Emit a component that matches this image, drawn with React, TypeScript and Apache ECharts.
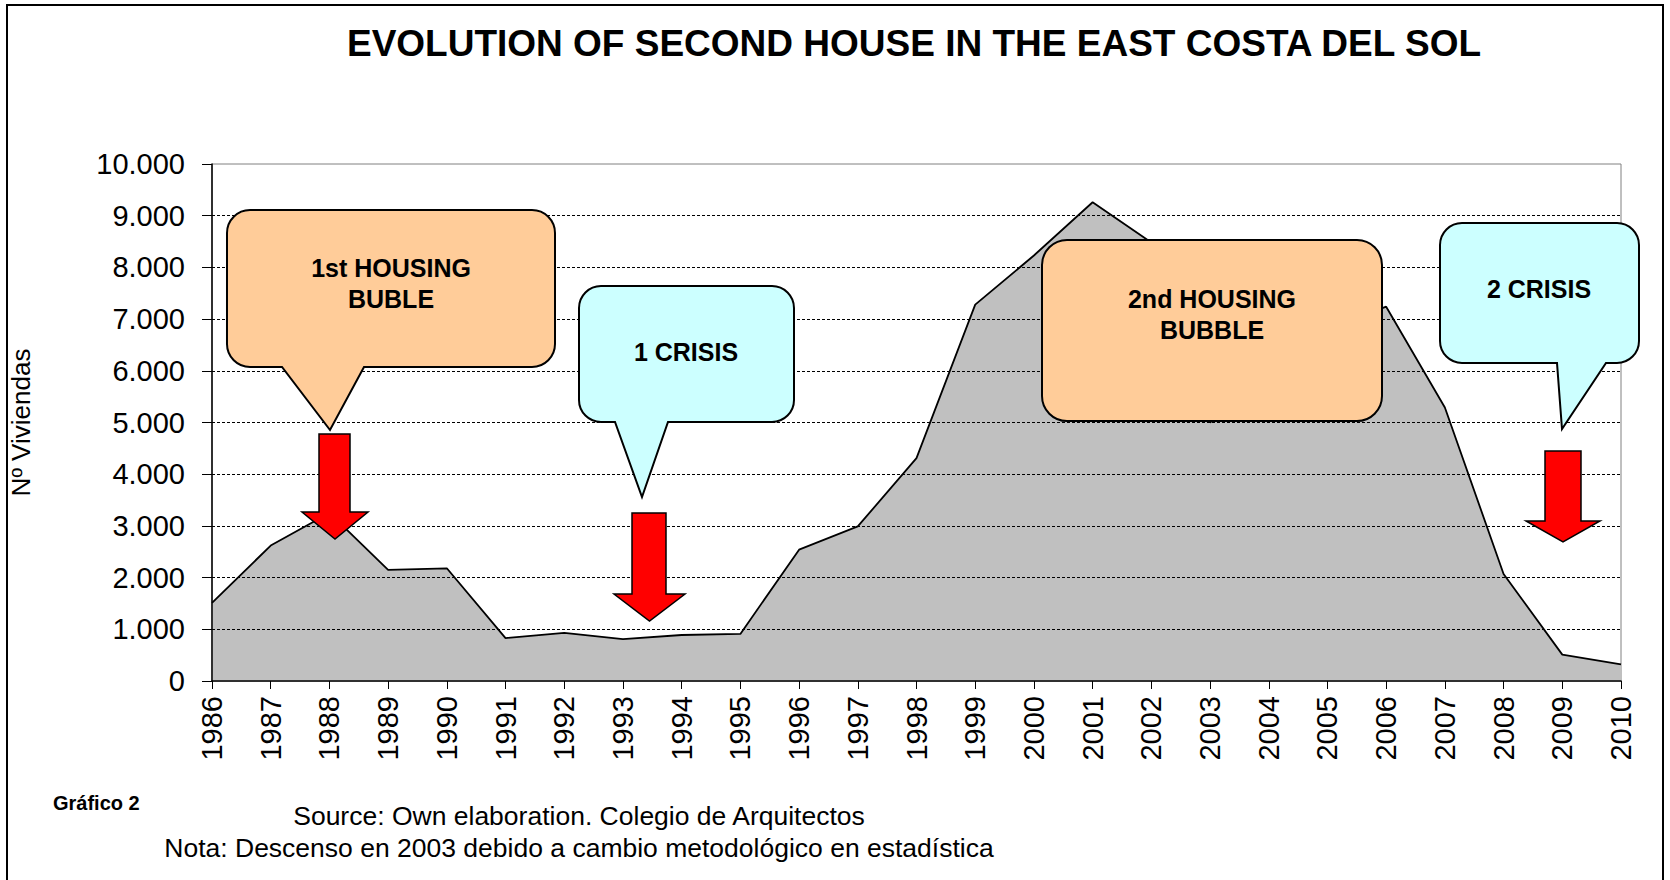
import React, { useEffect, useRef } from "react";
import * as echarts from "echarts";

const years = [
  "1986", "1987", "1988", "1989", "1990", "1991", "1992", "1993", "1994", "1995",
  "1996", "1997", "1998", "1999", "2000", "2001", "2002", "2003", "2004", "2005",
  "2006", "2007", "2008", "2009", "2010",
];
const viviendas = [
  1510, 2620, 3250, 2150, 2180, 830, 930, 810, 890, 910,
  2540, 2990, 4310, 7280, 8230, 9260, 8480, 5000, 6000, 6800,
  7240, 5290, 2070, 510, 320,
];
const yTicks = [0, 1000, 2000, 3000, 4000, 5000, 6000, 7000, 8000, 9000, 10000];

const titleText = "EVOLUTION OF SECOND HOUSE IN THE EAST COSTA DEL SOL";
const yName = "Nº Viviendas";
const sourceText = "Source: Own elaboration. Colegio de Arquitectos";
const noteText = "Nota: Descenso en 2003 debido a cambio metodológico en estadística";
const figText = "Gráfico 2";

const FONT = "'Liberation Sans', Arial, Helvetica, sans-serif";

type Tail = { l: number; r: number; tx: number; ty: number };

function calloutPath(x0: number, y0: number, x1: number, y1: number, r: number, tail?: Tail) {
  const k = 0.5523 * r;
  let d = `M${x0 + r},${y0} L${x1 - r},${y0} C${x1 - r + k},${y0} ${x1},${y0 + r - k} ${x1},${y0 + r} L${x1},${y1 - r} C${x1},${y1 - r + k} ${x1 - r + k},${y1} ${x1 - r},${y1}`;
  if (tail) d += ` L${tail.r},${y1} L${tail.tx},${tail.ty} L${tail.l},${y1}`;
  d += ` L${x0 + r},${y1} C${x0 + r - k},${y1} ${x0},${y1 - r + k} ${x0},${y1 - r} L${x0},${y0 + r} C${x0},${y0 + r - k} ${x0 + r - k},${y0} ${x0 + r},${y0} Z`;
  return d;
}

function arrowPoints(sx0: number, sx1: number, sy0: number, hy: number, hx0: number, hx1: number, tipY: number) {
  const tx = (hx0 + hx1) / 2;
  return [
    [sx0, sy0], [sx1, sy0], [sx1, hy], [hx1, hy], [tx, tipY], [hx0, hy], [sx0, hy],
  ];
}

const callouts = [
  { name: "callout1", d: calloutPath(227, 210, 555, 367, 23, { l: 282, r: 364, tx: 330, ty: 430 }), fill: "#FFCC99" },
  { name: "callout2", d: calloutPath(579, 286, 794, 422, 22, { l: 615, r: 668, tx: 642, ty: 497 }), fill: "#CCFFFF" },
  { name: "callout3", d: calloutPath(1042, 240, 1382, 421, 25), fill: "#FFCC99" },
  { name: "callout4", d: calloutPath(1440, 223, 1639, 363, 22, { l: 1557, r: 1606, tx: 1562, ty: 429 }), fill: "#CCFFFF" },
];

callouts.forEach((c) => {
  echarts.graphic.registerShape(c.name, echarts.graphic.extendPath(c.d, {}) as any);
});

const arrows = [
  arrowPoints(319, 350, 434, 512, 302, 368, 539),
  arrowPoints(632, 666, 513, 594, 614, 685, 621),
  arrowPoints(1545, 1581, 451, 521, 1526, 1600, 542),
];

const labels = [
  { text: "1st HOUSING", x: 391, y: 268 },
  { text: "BUBLE", x: 391, y: 299 },
  { text: "1 CRISIS", x: 686, y: 352 },
  { text: "2nd HOUSING", x: 1212, y: 299 },
  { text: "BUBBLE", x: 1212, y: 330 },
  { text: "2 CRISIS", x: 1539, y: 289 },
];

export default function App() {
  const ref = useRef<HTMLDivElement>(null);

  useEffect(() => {
    document.body.style.margin = "0";
    if (!ref.current) return;
    const chart = echarts.init(ref.current, null, { renderer: "svg" });

    const graphics: any[] = [
      {
        type: "rect",
        z: 100,
        shape: { x: 7, y: 5, width: 1656, height: 900 },
        style: { fill: "none", stroke: "#000", lineWidth: 2 },
        silent: true,
      },
      {
        type: "text",
        z: 100,
        x: 914,
        y: 43,
        style: {
          text: titleText,
          fill: "#000",
          font: `bold 37px ${FONT}`,
          textAlign: "center",
          textVerticalAlign: "middle",
        },
      },
      ...callouts.map((c) => ({
        type: c.name,
        z: 100,
        x: 0,
        y: 0,
        style: { fill: c.fill, stroke: "#000", lineWidth: 2 },
      })),
      ...arrows.map((pts) => ({
        type: "polygon",
        z: 100,
        shape: { points: pts },
        style: { fill: "#FF0000", stroke: "#000", lineWidth: 1.5 },
      })),
      ...labels.map((l) => ({
        type: "text",
        z: 101,
        x: l.x,
        y: l.y,
        style: {
          text: l.text,
          fill: "#000",
          font: `bold 25px ${FONT}`,
          textAlign: "center",
          textVerticalAlign: "middle",
        },
      })),
      {
        type: "text",
        z: 100,
        x: 53,
        y: 803,
        style: {
          text: figText,
          fill: "#000",
          font: `bold 20px ${FONT}`,
          textAlign: "left",
          textVerticalAlign: "middle",
        },
      },
      {
        type: "text",
        z: 100,
        x: 579,
        y: 816,
        style: {
          text: sourceText,
          fill: "#000",
          font: `26.5px ${FONT}`,
          textAlign: "center",
          textVerticalAlign: "middle",
        },
      },
      {
        type: "text",
        z: 100,
        x: 579,
        y: 848,
        style: {
          text: noteText,
          fill: "#000",
          font: `26.5px ${FONT}`,
          textAlign: "center",
          textVerticalAlign: "middle",
        },
      },
    ];

    chart.setOption({
      animation: false,
      backgroundColor: "#fff",
      grid: {
        left: 208,
        right: 49,
        top: 164,
        bottom: 199,
        show: true,
        borderColor: "#808080",
        borderWidth: 1,
        backgroundColor: "transparent",
      },
      xAxis: {
        type: "category",
        data: years,
        boundaryGap: false,
        axisLine: { show: true, lineStyle: { color: "#000", width: 1.5 } },
        axisTick: { show: true, length: 8, lineStyle: { color: "#000", width: 1 } },
        axisLabel: {
          rotate: 90,
          interval: 0,
          margin: 15,
          color: "#000",
          fontSize: 29,
          fontFamily: FONT,
        },
        splitLine: { show: false },
        z: 5,
      },
      yAxis: {
        type: "value",
        min: yTicks[0],
        max: yTicks[yTicks.length - 1],
        interval: 1000,
        name: yName,
        nameLocation: "middle",
        nameRotate: 90,
        nameGap: 178,
        nameTextStyle: { color: "#000", fontSize: 26, fontFamily: FONT },
        axisLine: { show: true, lineStyle: { color: "#000", width: 1.5 } },
        axisTick: { show: true, length: 10, lineStyle: { color: "#000", width: 1 } },
        axisLabel: {
          margin: 27,
          color: "#000",
          fontSize: 29,
          fontFamily: FONT,
          formatter: (v: number) => (v === 0 ? "0" : `${v / 1000}.000`),
        },
        splitLine: {
          show: true,
          showMinLine: false,
          showMaxLine: false,
          lineStyle: { color: "#000", width: 1, type: [3, 2] },
        },
        z: 5,
      },
      series: [
        {
          type: "line",
          data: viviendas,
          symbol: "none",
          lineStyle: { color: "#000", width: 1.8 },
          areaStyle: { color: "#C0C0C0", opacity: 1 },
          z: 3,
        },
      ],
      graphic: graphics,
    });

    return () => chart.dispose();
  }, []);

  return <div ref={ref} style={{ width: 1670, height: 880 }} />;
}
